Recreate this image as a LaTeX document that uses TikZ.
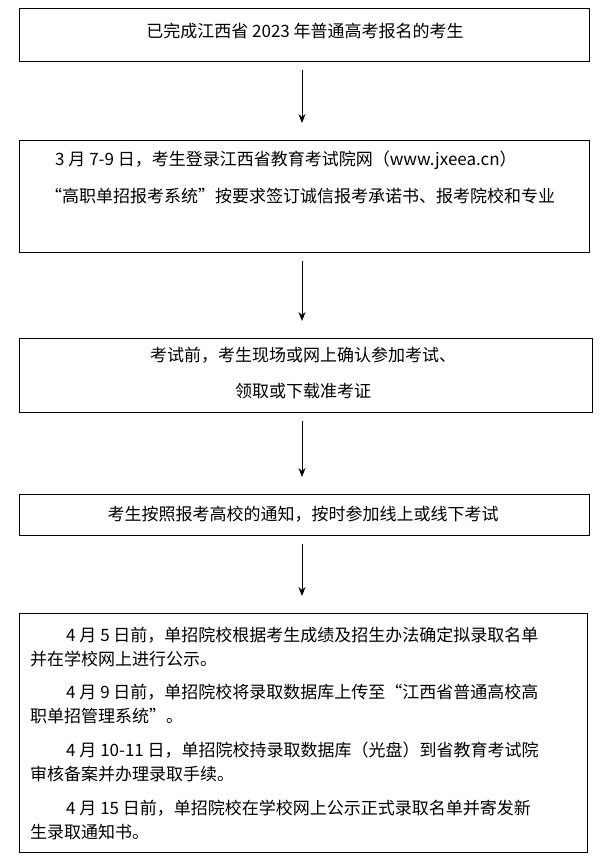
\documentclass[tikz,border=0pt]{standalone}
\usepackage{fontspec}
\setmainfont{Noto Sans CJK SC}
\usetikzlibrary{arrows.meta}
\tikzset{
  stepbox/.style={draw,line width=.8pt,inner sep=0pt,anchor=north west},
  txt/.style={anchor=west,inner sep=0pt},
  flow/.style={-{Stealth[length=9pt,width=7pt]},line width=1pt,shorten <=8pt,shorten >=17pt}
}
\begin{document}
\begin{tikzpicture}[x=1pt,y=-1pt,font=\fontsize{17}{20}\selectfont]
\useasboundingbox (0,0) rectangle (611,868);

\node[stepbox,minimum width=570pt,minimum height=53pt] (b1) at (19,8) {};
\node[stepbox,minimum width=570pt,minimum height=112pt] (b2) at (19,140) {};
\node[stepbox,minimum width=573pt,minimum height=74pt] (b3) at (19,338) {};
\node[stepbox,minimum width=570pt,minimum height=41pt] (b4) at (19,494) {};
\node[stepbox,minimum width=568pt,minimum height=239pt] (b5) at (19,613) {};

\node (t1) at (305,31) {已完成江西省 2023 年普通高考报名的考生};
\node[txt] (t2a) at (55,160) {3 月 7-9 日，考生登录江西省教育考试院网（www.jxeea.cn）};
\node[txt] (t2b) at (45,196) {“高职单招报考系统”按要求签订诚信报考承诺书、报考院校和专业};
\node (t3a) at (303,355) {考试前，考生现场或网上确认参加考试、};
\node (t3b) at (303,391) {领取或下载准考证};
\node (t4) at (303,514) {考生按照报考高校的通知，按时参加线上或线下考试};

\node[txt] (p1a) at (66,635) {4 月 5 日前，单招院校根据考生成绩及招生办法确定拟录取名单};
\node[txt] (p1b) at (30,659) {并在学校网上进行公示。};
\node[txt] (p2a) at (66,692) {4 月 9 日前，单招院校将录取数据库上传至“江西省普通高校高};
\node[txt] (p2b) at (30,716) {职单招管理系统”。};
\node[txt] (p3a) at (66,750) {4 月 10-11 日，单招院校持录取数据库（光盘）到省教育考试院};
\node[txt] (p3b) at (30,774) {审核备案并办理录取手续。};
\node[txt] (p4a) at (66,808) {4 月 15 日前，单招院校在学校网上公示正式录取名单并寄发新};
\node[txt] (p4b) at (30,832) {生录取通知书。};

\draw[flow] (b1.south -| 302,0) -- (b2.north -| 302,0);
\draw[flow] (b2.south -| 302,0) -- (b3.north -| 302,0);
\draw[flow] (b3.south -| 302,0) -- (b4.north -| 302,0);
\draw[flow] (b4.south -| 302,0) -- (b5.north -| 302,0);

\end{tikzpicture}
\end{document}
